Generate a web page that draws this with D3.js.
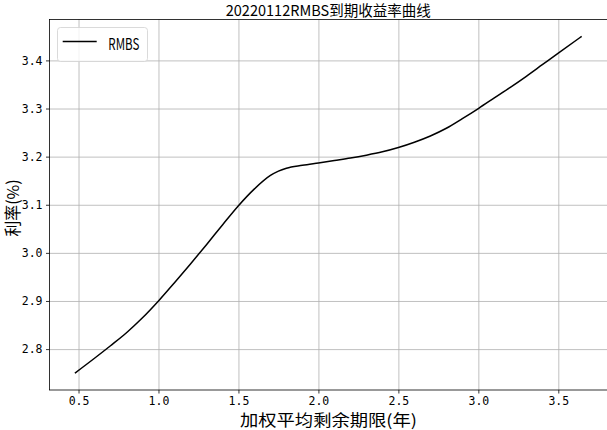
<!DOCTYPE html>
<html>
<head>
<meta charset="utf-8">
<script src="https://cdn.jsdelivr.net/npm/d3@7"></script>
<style>
  body { margin: 0; background: #fff; }
  svg { display: block; }
</style>
</head>
<body>
<div id="chart"></div>
<script>
// data
var titleText = "20220112RMBS到期收益率曲线";
var seriesName = "RMBS";
var xLabel = "加权平均剩余期限(年)";
var yLabel = "利率(%)";
var termYears = [0.477, 0.6, 0.7, 0.8, 0.9, 1.0, 1.1, 1.2, 1.3, 1.4, 1.5, 1.6, 1.7, 1.75, 1.8, 1.9, 2.0, 2.1, 2.2, 2.3, 2.4, 2.5, 2.6, 2.7, 2.8, 2.9, 3.0, 3.1, 3.2, 3.3, 3.4, 3.5, 3.646];
var yieldPct = [2.750, 2.781, 2.807, 2.834, 2.865, 2.900, 2.938, 2.977, 3.017, 3.058, 3.098, 3.133, 3.161, 3.170, 3.176, 3.182, 3.187, 3.192, 3.197, 3.203, 3.210, 3.219, 3.230, 3.243, 3.259, 3.279, 3.300, 3.322, 3.344, 3.367, 3.391, 3.415, 3.450];
var xTicks = [0.5, 1.0, 1.5, 2.0, 2.5, 3.0, 3.5];
var yTicks = [2.8, 2.9, 3.0, 3.1, 3.2, 3.3, 3.4];

$ready();

function $ready() {
    var width = 607, height = 430;
    var box = { left: 49.5, right: 608, top: 19.5, bottom: 390 };
    var svg = d3.select('#chart').append('svg').attr('width', width).attr('height', height);

    // matplotlib-style 5% margins
    var xe = d3.extent(termYears), ye = d3.extent(yieldPct);
    var xm = (xe[1] - xe[0]) * 0.05, ym = (ye[1] - ye[0]) * 0.05;
    var x = d3.scaleLinear().domain([xe[0] - xm, xe[1] + xm]).range([box.left, 607]);
    var y = d3.scaleLinear().domain([ye[0] - ym, ye[1] + ym]).range([box.bottom, box.top]);

    var tickFont = '"DejaVu Sans Mono", monospace';
    var cjkFont = '"Noto Sans CJK SC", "Noto Sans", sans-serif';

    // grid
    svg.append('g').call(d3.axisBottom(x).tickValues(xTicks).tickSize(-(box.bottom - box.top)).tickFormat(''))
        .attr('transform', 'translate(0,' + box.bottom + ')')
        .call(function(g) {
            g.select('.domain').remove();
            g.selectAll('line').attr('stroke', '#b0b0b0').attr('stroke-width', 0.8);
        });
    svg.append('g').call(d3.axisLeft(y).tickValues(yTicks).tickSize(-(box.right - box.left)).tickFormat(''))
        .attr('transform', 'translate(' + box.left + ',0)')
        .call(function(g) {
            g.select('.domain').remove();
            g.selectAll('line').attr('stroke', '#b0b0b0').attr('stroke-width', 0.8);
        });

    // curve
    var line = d3.line().x(function(d) { return x(d[0]); }).y(function(d) { return y(d[1]); }).curve(d3.curveMonotoneX);
    var pts = termYears.map(function(t, i) { return [t, yieldPct[i]]; });
    svg.append('path').datum(pts).attr('d', line).attr('fill', 'none').attr('stroke', '#000').attr('stroke-width', 1.5);

    // frame
    svg.append('rect').attr('x', box.left).attr('y', box.top).attr('width', box.right - box.left).attr('height', box.bottom - box.top)
        .attr('fill', 'none').attr('stroke', '#000').attr('stroke-width', 0.8);

    // axes ticks + labels
    var xa = svg.append('g').attr('transform', 'translate(0,' + box.bottom + ')')
        .call(d3.axisBottom(x).tickValues(xTicks).tickSize(3.5).tickPadding(3).tickFormat(d3.format('.1f')));
    var ya = svg.append('g').attr('transform', 'translate(' + box.left + ',0)')
        .call(d3.axisLeft(y).tickValues(yTicks).tickSize(3.5).tickPadding(3.5).tickFormat(d3.format('.1f')));
    [xa, ya].forEach(function(g) {
        g.select('.domain').remove();
        g.selectAll('line').attr('stroke', '#000').attr('stroke-width', 0.8);
        g.selectAll('text').style('font-family', tickFont).style('font-size', '11.5px').attr('fill', '#000');
    });

    // title
    svg.append('text').attr('x', (box.left + 607) / 2).attr('y', 16).attr('text-anchor', 'middle')
        .style('font-family', cjkFont).style('font-size', '15px')
        .attr('textLength', 205).attr('lengthAdjust', 'spacingAndGlyphs').text(titleText);

    // axis labels
    svg.append('text').attr('x', 328.5).attr('y', 425.5).attr('text-anchor', 'middle')
        .style('font-family', cjkFont).style('font-size', '16px')
        .attr('textLength', 177).attr('lengthAdjust', 'spacingAndGlyphs').text(xLabel);
    svg.append('text').attr('transform', 'translate(18.5,208) rotate(-90)').attr('text-anchor', 'middle')
        .style('font-family', cjkFont).style('font-size', '16.5px')
        .attr('textLength', 57).attr('lengthAdjust', 'spacingAndGlyphs').text(yLabel);

    // legend
    var lg = svg.append('g');
    lg.append('rect').attr('x', 57.5).attr('y', 27.5).attr('width', 90).attr('height', 34).attr('rx', 3)
        .attr('fill', '#fff').attr('fill-opacity', 0.8).attr('stroke', '#d0d0d0').attr('stroke-width', 0.8);
    lg.append('line').attr('x1', 62.7).attr('x2', 96.7).attr('y1', 41.5).attr('y2', 41.5)
        .attr('stroke', '#000').attr('stroke-width', 1.5);
    lg.append('text').attr('x', 108.3).attr('y', 49.5)
        .style('font-family', cjkFont).style('font-size', '16px')
        .attr('textLength', 31).attr('lengthAdjust', 'spacingAndGlyphs').text(seriesName);
}
</script>
</body>
</html>
